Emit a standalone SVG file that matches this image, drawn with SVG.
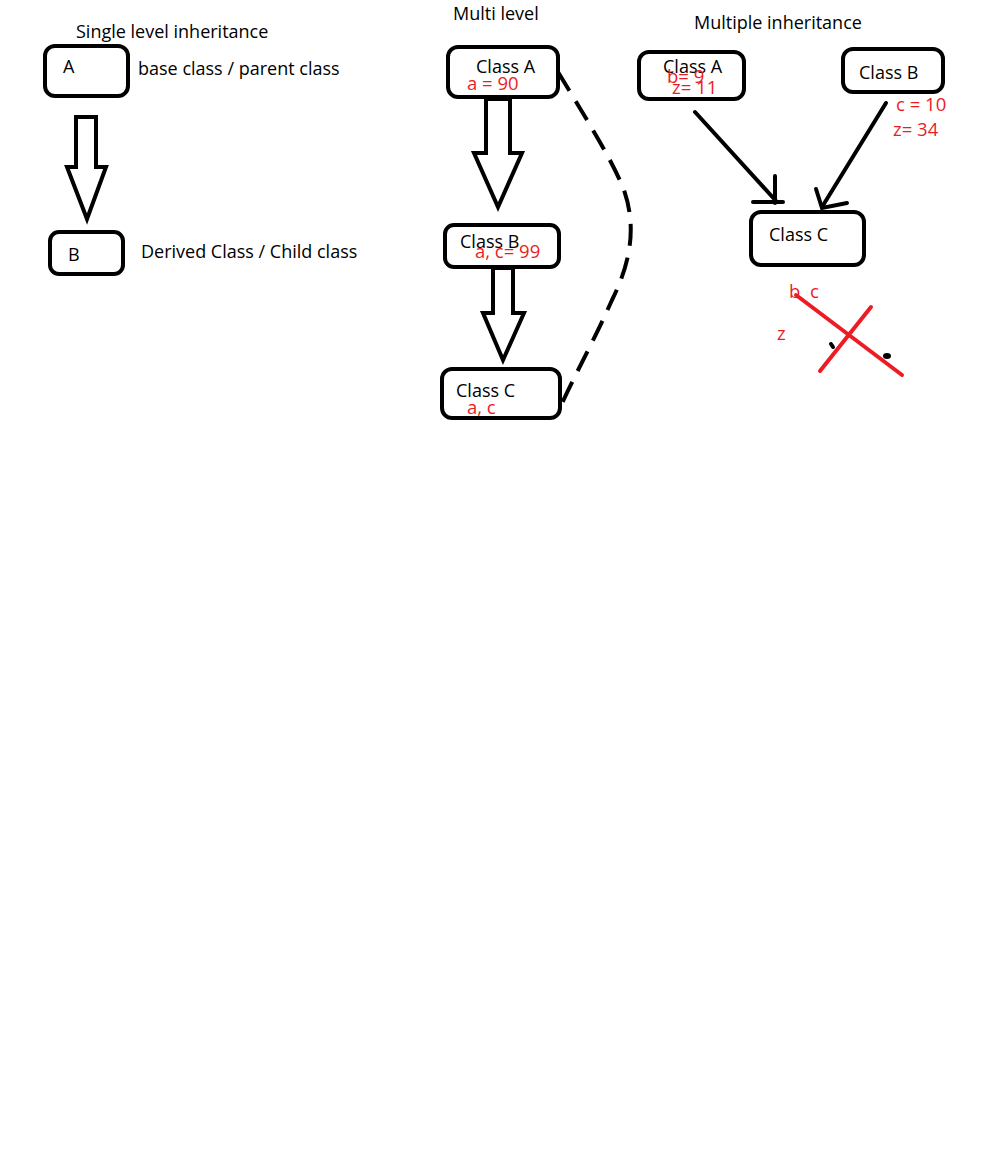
<svg xmlns="http://www.w3.org/2000/svg" width="984" height="1155" viewBox="0 0 984 1155">
  <style>
    .box { fill: #fff; stroke: #000; stroke-width: 4; }
    .hollow { fill: #fff; stroke: #000; stroke-width: 4; stroke-linejoin: miter; }
    .line { fill: none; stroke: #000; stroke-width: 4; stroke-linecap: round; }
    .dash { fill: none; stroke: #000; stroke-width: 4; stroke-dasharray: 22 12; }
    .t { font-family: "Open Sans", "Noto Sans", sans-serif; font-size: 18px; fill: #000; }
    .r { font-family: "Open Sans", "Noto Sans", sans-serif; font-size: 18.5px; fill: #ed1c24; }
    .cross { stroke: #ed1c24; stroke-width: 4; stroke-linecap: round; fill: none; }
  </style>
  <rect width="984" height="1155" fill="#fff"/>

  <!-- Single level inheritance -->
  <text class="t" x="76" y="38">Single level inheritance</text>
  <g id="single-A">
    <rect class="box" x="45" y="46" width="83" height="50" rx="10"/>
    <text class="t" x="63" y="73">A</text>
  </g>
  <text class="t" x="138" y="75">base class / parent class</text>
  <g id="single-B">
    <rect class="box" x="50" y="232" width="73" height="42" rx="9"/>
    <text class="t" x="68" y="261">B</text>
  </g>
  <text class="t" x="141" y="258">Derived Class / Child class</text>

  <!-- Multi level -->
  <text class="t" x="453" y="20">Multi level</text>
  <g id="multi-A">
    <rect class="box" x="448" y="47" width="110" height="50" rx="10"/>
    <text class="t" x="476" y="73">Class A</text>
    <text class="r" x="467" y="90">a = 90</text>
  </g>
  <g id="multi-B">
    <rect class="box" x="445" y="225" width="114" height="42" rx="9"/>
    <text class="t" x="460" y="248">Class B</text>
    <text class="r" x="475" y="258">a, c= 99</text>
  </g>
  <g id="multi-C">
    <rect class="box" x="442" y="369" width="118" height="49" rx="10"/>
    <text class="t" x="456" y="397">Class C</text>
    <text class="r" x="467" y="414">a, c</text>
  </g>

  <!-- Multiple inheritance -->
  <text class="t" x="694" y="29">Multiple inheritance</text>
  <g id="multiple-A">
    <rect class="box" x="639" y="52" width="105" height="47" rx="10"/>
    <text class="t" x="663" y="73">Class A</text>
    <text class="r" x="667" y="83">b= 9</text>
    <text class="r" x="672" y="94">z= 11</text>
  </g>
  <g id="multiple-B">
    <rect class="box" x="843" y="49" width="100" height="43" rx="10"/>
    <text class="t" x="859" y="79">Class B</text>
  </g>
  <text class="r" x="896" y="111">c = 10</text>
  <text class="r" x="893" y="136">z= 34</text>
  <g id="multiple-C">
    <rect class="box" x="751" y="212" width="113" height="53" rx="10"/>
    <text class="t" x="769" y="241">Class C</text>
  </g>

  <!-- connectors -->
  <g id="connectors">
    <!-- hollow inheritance arrows -->
    <path class="hollow" d="M76 117 H96 V167 H106 L87 219 L67 167 H76 Z"/>
    <path class="hollow" d="M486 99 H510 V153 H522 L498 207 L474 153 H486 Z"/>
    <path class="hollow" d="M493 268 H513 V313 H524 L503 360 L483 313 H493 Z"/>
    <!-- dashed shortcut from Class A to Class C -->
    <path class="dash" d="M558 72 C590 125 612 160 624 190 C636 225 632 260 612 300 C592 345 572 380 560 408"/>
    <!-- lines from Class A and Class B into Class C -->
    <path class="line" d="M695 112 L777 202"/>
    <path class="line" d="M775 176 V203 M753 202 H783"/>
    <path class="line" d="M886 103 L822 207"/>
    <path class="line" d="M816 189 L822 208 L847 203"/>
  </g>

  <!-- crossed-out member list -->
  <text class="r" x="789" y="298">b</text>
  <text class="r" x="810" y="298">c</text>
  <text class="r" x="777" y="340">z</text>
  <path class="cross" d="M796 295 L902 375 M871 307 L820 371"/>
  <path class="line" d="M831 344 L833 347" stroke-width="3"/>
  <ellipse cx="887" cy="356" rx="4" ry="3" fill="#000"/>
</svg>
